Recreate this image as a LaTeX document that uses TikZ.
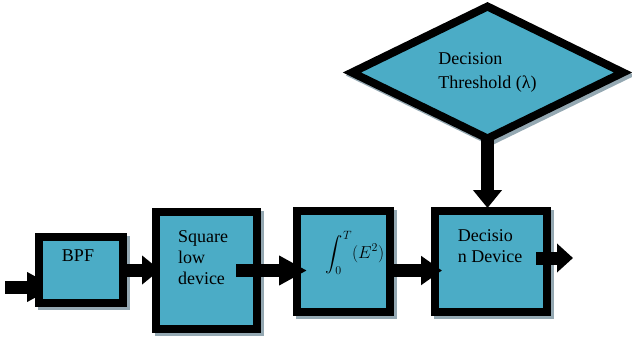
\documentclass[tikz,border=0pt]{standalone}
\usepackage{amsmath}
\usepackage{fontspec}
\setmainfont{Liberation Serif}
\usetikzlibrary{shapes.geometric,shadows,arrows.meta,backgrounds}
\definecolor{boxblue}{HTML}{4BACC6}
\definecolor{shadegray}{RGB}{148,168,178}
\tikzset{
  block/.style={draw=black, line width=8pt, fill=boxblue, inner sep=0pt, outer sep=0pt,
    drop shadow={shadow xshift=3pt, shadow yshift=-3pt, fill=shadegray, draw=shadegray, line width=8pt, opacity=1}},
  blocktext/.style={font=\fontsize{18}{21}\selectfont, align=left, inner sep=0pt},
  blockarrow/.style={line width=13pt, -{Triangle[length=#1,width=28pt]}},
  blockarrow/.default=18pt
}

\begin{document}
\begin{tikzpicture}[x=1pt,y=-1pt]
\useasboundingbox (0,0) rectangle (632,338);

% blocks of the receiver
\node[block, minimum width=84pt, minimum height=66pt] (bpf) at (81,270) {};
\node[block, minimum width=101pt, minimum height=117pt] (sq) at (206.5,270.5) {};
\node[block, minimum width=93pt, minimum height=101pt] (int) at (343.5,261.5) {};
\node[block, minimum width=112pt, minimum height=101pt] (dec) at (491,261.5) {};
\node[block, diamond, shape aspect=2, minimum width=271pt, minimum height=132pt,
  blocktext, font=\fontsize{18}{24}\selectfont] (thr) at (487.5,72.5) {Decision\\Threshold (λ)};

\node[blocktext] (bpftext) at (78,256) {BPF};
\node[blocktext] (sqtext) at (203,258) {Square\\low\\device};
\node[blocktext] (inttext) at (355,253) {$\displaystyle\int_0^T (E^2)$};
\node[blocktext] (dectext) at (490,246.5) {Decisio\\n Device};

% input arrow runs under the BPF box
\coordinate (in) at (5,287);
\begin{scope}[on background layer]
\draw[blockarrow=28pt, shorten >=-16pt] (in) -- (in -| bpf.west);
\end{scope}

% signal path
\draw[blockarrow, shorten >=-4pt] (bpf.east) -- (bpf.east -| sq.west);
\draw[blockarrow=28pt, shorten <=-21pt, shorten >=-10pt] (sq.east) -- (sq.east -| int.west);
\draw[blockarrow=21pt, shorten >=-7pt] ([yshift=-9pt]int.east) -- ([yshift=-9pt]dec.west);
\coordinate (out) at (573,258);
\draw[blockarrow=16pt, shorten <=-11pt] (dec.east |- out) -- (out);

% threshold into the decision device
\draw[blockarrow, shorten >=3pt] (thr.south) -- (thr.south |- dec.north);
\end{tikzpicture}
\end{document}
